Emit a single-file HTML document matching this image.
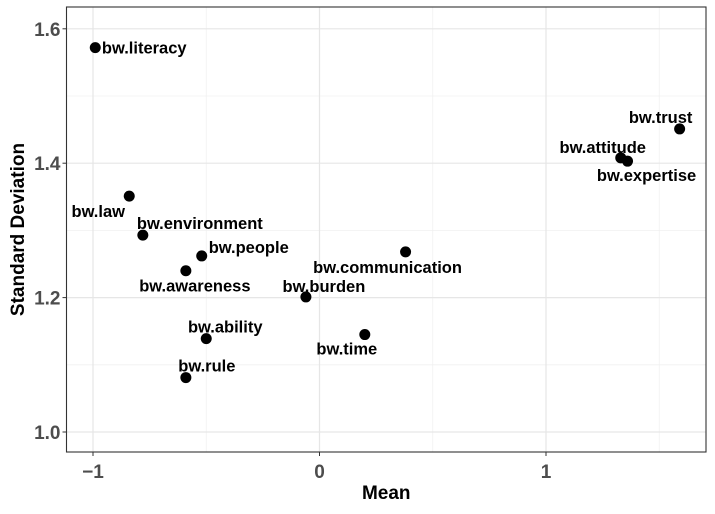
<!DOCTYPE html>
<html><head><meta charset="utf-8"><style>
body{margin:0;background:#fff}
svg text{font-family:"Liberation Sans",Arial,sans-serif;font-weight:bold}
</style></head><body>
<svg id="chart" width="715" height="509" xmlns="http://www.w3.org/2000/svg"></svg>
<script>
const labels=["bw.literacy","bw.law","bw.environment","bw.people","bw.awareness","bw.burden","bw.communication","bw.ability","bw.rule","bw.time","bw.trust","bw.attitude","bw.expertise"];
const means=[-0.99,-0.84,-0.78,-0.52,-0.59,-0.06,0.38,-0.50,-0.59,0.20,1.59,1.33,1.36];
const sds=[1.572,1.351,1.293,1.262,1.240,1.201,1.268,1.139,1.081,1.145,1.451,1.408,1.403];
const xTicks=[-1,0,1];
const xTickLabels=["\u22121","0","1"];
const yTicks=[1.0,1.2,1.4,1.6];
const yTickLabels=["1.0","1.2","1.4","1.6"];
// label offsets (dx,dy) of label centre - styling only
const off=[[49,6],[-31,21],[57,-6],[47,-3],[9,21],[18,-5],[-18,21],[19,-6],[21,-6],[-18,20],[-19,-6],[-18,-5],[19,20]];
const svg=document.getElementById('chart');
const NS="http://www.w3.org/2000/svg";
const L=66.5,R=706,T=7,B=452;
const xs=v=>319.5+v*226.5;
const ys=v=>432-(v-1)*672;
function mk(t,a,p){const e=document.createElementNS(NS,t);for(const k in a)e.setAttribute(k,a[k]);(p||svg).appendChild(e);return e;}
for(let v=-1.5;v<=2;v+=1){const x=xs(v);if(x>L&&x<R){const g=mk('line',{x1:x,x2:x,y1:T,y2:B,stroke:'#f0f0f0','stroke-width':0.8});}}
for(let v=0.9;v<=1.75;v+=0.2){const y=ys(v);if(y>T&&y<B){const g=mk('line',{x1:L,x2:R,y1:y,y2:y,stroke:'#f0f0f0','stroke-width':0.8});}}
xTicks.forEach((v,i)=>{const x=xs(v);
const g=mk('line',{x1:x,x2:x,y1:T,y2:B,stroke:'#e6e6e6','stroke-width':1.2});
mk('line',{x1:x,x2:x,y1:B,y2:B+4,stroke:'#333','stroke-width':1});
const t=mk('text',{x:x,y:B+26,'text-anchor':'middle','font-size':19,fill:'#4d4d4d'});t.textContent=xTickLabels[i];
});
yTicks.forEach((v,i)=>{const y=ys(v);
const g=mk('line',{x1:L,x2:R,y1:y,y2:y,stroke:'#e6e6e6','stroke-width':1.2});
mk('line',{x1:L-4,x2:L,y1:y,y2:y,stroke:'#333','stroke-width':1});
const t=mk('text',{x:L-6,y:y+7,'text-anchor':'end','font-size':19,fill:'#4d4d4d'});t.textContent=yTickLabels[i];
});
const bd=mk('rect',{x:L,y:T,width:R-L,height:B-T,fill:'none',stroke:'#333','stroke-width':1.1});

means.forEach((m,i)=>{const x=xs(m),y=ys(sds[i]);
const c=mk('circle',{cx:x,cy:y,r:5.5,fill:'#000'});


const o=off[i];const t=mk('text',{x:x+o[0],y:y+o[1],'text-anchor':'middle','font-size':16.5,fill:'#000'});t.textContent=labels[i];

});
const xt=mk('text',{x:(L+R)/2,y:499,'text-anchor':'middle','font-size':19,fill:'#000'});xt.textContent='Mean';

const yt=mk('text',{x:0,y:0,'text-anchor':'middle','font-size':19,fill:'#000',transform:'translate(24,'+((T+B)/2)+') rotate(-90)'});yt.textContent='Standard Deviation';

</script>
</body></html>
